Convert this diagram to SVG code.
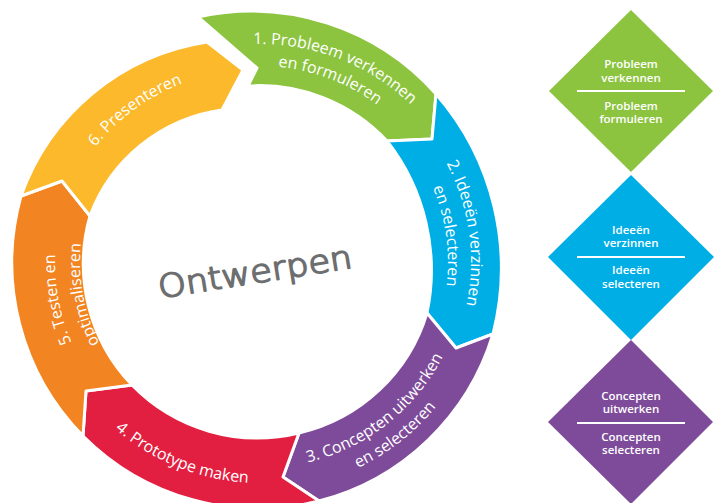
<svg xmlns="http://www.w3.org/2000/svg" width="717" height="503" viewBox="0 0 717 503">
<defs>
<style>
.seg{stroke:#fff;stroke-width:3;stroke-linejoin:round}
.rt{font-family:"Open Sans","DejaVu Sans",sans-serif;font-size:16px;font-weight:500;fill:#fff}
.dt{font-family:"Open Sans","DejaVu Sans",sans-serif;font-size:11.5px;font-weight:600;fill:#fff;text-anchor:middle}
.dl{stroke:#fff;stroke-width:1.8}
.hand{font-family:"DejaVu Sans",sans-serif;font-size:32px;font-weight:200;fill:#6d6e70;stroke:#6d6e70;stroke-width:1.6;stroke-linejoin:round;stroke-linecap:round}
</style>
<path id="p1a" d="M185.5,57.2 A218,218 0 0 1 452.5,159.7"/>
<path id="p1b" d="M193.0,77.8 A196,196 0 0 1 433.1,170.0"/>
<path id="p2a" d="M387.0,93.5 A211,211 0 0 1 428.5,389.0"/>
<path id="p2b" d="M373.1,111.9 A188,188 0 0 1 410.1,375.1"/>
<path id="p3a" d="M217.2,463.5 A206,206 0 0 0 465.9,269.2"/>
<path id="p3b" d="M212.6,485.0 A228,228 0 0 0 487.9,270.0"/>
<path id="p4" d="M49.8,330.3 A221,221 0 0 0 363.8,457.1"/>
<path id="p5a" d="M159.1,440.4 A205,205 0 0 1 101.8,131.6"/>
<path id="p5b" d="M171.3,418.7 A180,180 0 0 1 121.1,147.5"/>
<path id="p6" d="M54.7,239.7 A200,200 0 0 1 283.5,73.5"/>
</defs>
<rect width="717" height="503" fill="#fff"/>

<g id="step1">
<path class="seg" fill="#8cc43f" d="M198,17 A247,247 0 0 1 436,94 L432,139 L387,141 A175,175 0 0 0 248,86 L257,68 Z"/>
<text class="rt"><textPath href="#p1a" startOffset="50%" text-anchor="middle">1. Probleem verkennen</textPath></text>
<text class="rt"><textPath href="#p1b" startOffset="50%" text-anchor="middle">en formuleren</textPath></text>
</g>
<g id="step2">
<path class="seg" fill="#00aee6" d="M436,94 A265,265 0 0 1 493,334 L456,348 L427,313 A210,210 0 0 0 387,141 L432,139 Z"/>
<text class="rt"><textPath href="#p2a" startOffset="50%" text-anchor="middle">2. Ideeën verzinnen</textPath></text>
<text class="rt"><textPath href="#p2b" startOffset="50%" text-anchor="middle">en selecteren</textPath></text>
</g>
<g id="step3">
<path class="seg" fill="#7e4b9a" d="M493,334 A246,246 0 0 1 319,501 L283,477 L299,433 A175,175 0 0 0 427,313 L456,348 Z"/>
<text class="rt"><textPath href="#p3a" startOffset="50%" text-anchor="middle">3. Concepten uitwerken</textPath></text>
<text class="rt"><textPath href="#p3b" startOffset="50%" text-anchor="middle">en selecteren</textPath></text>
</g>
<g id="step4">
<path class="seg" fill="#e21f40" d="M319,501 A247,247 0 0 1 83,436 L86,391 L132,385 A175,175 0 0 0 299,433 L283,477 Z"/>
<text class="rt"><textPath href="#p4" startOffset="50%" text-anchor="middle">4. Prototype maken</textPath></text>
</g>
<g id="step5">
<path class="seg" fill="#f28522" d="M83,436 A247,247 0 0 1 21,196 L62,181 L90,216 A175,175 0 0 0 132,385 L86,391 Z"/>
<text class="rt"><textPath href="#p5a" startOffset="50%" text-anchor="middle">5. Testen en</textPath></text>
<text class="rt"><textPath href="#p5b" startOffset="50%" text-anchor="middle">optimaliseren</textPath></text>
</g>
<g id="step6">
<path class="seg" fill="#fbb92b" d="M21,196 A235,235 0 0 1 207,42 L243,70 L222,110 A165,165 0 0 0 90,216 L62,181 Z"/>
<text class="rt"><textPath href="#p6" startOffset="50%" text-anchor="middle">6. Presenteren</textPath></text>
</g>

<g id="center">
<text class="hand" x="255" y="283" text-anchor="middle" textLength="196" lengthAdjust="spacingAndGlyphs" transform="rotate(-9 255 272)">Ontwerpen</text>
</g>

<g id="diamond1">
<polygon fill="#8cc43f" points="631,10 713,91 631,172 549,91"/>
<line class="dl" x1="577" y1="91" x2="685" y2="91"/>
<text class="dt" x="631" y="68">Probleem</text>
<text class="dt" x="631" y="82">verkennen</text>
<text class="dt" x="631" y="110">Probleem</text>
<text class="dt" x="631" y="123">formuleren</text>
</g>
<g id="diamond2">
<polygon fill="#00aee6" points="631,175 714,257 631,340 548,257"/>
<line class="dl" x1="577" y1="257" x2="685" y2="257"/>
<text class="dt" x="631" y="234">Ideeën</text>
<text class="dt" x="631" y="247">verzinnen</text>
<text class="dt" x="631" y="274">Ideeën</text>
<text class="dt" x="631" y="288">selecteren</text>
</g>
<g id="diamond3">
<polygon fill="#7e4b9a" points="631,340 713,422 631,504 548,422"/>
<line class="dl" x1="577" y1="423" x2="685" y2="423"/>
<text class="dt" x="631" y="400">Concepten</text>
<text class="dt" x="631" y="413">uitwerken</text>
<text class="dt" x="631" y="441">Concepten</text>
<text class="dt" x="631" y="454">selecteren</text>
</g>
<g id="connectors"/>
</svg>
